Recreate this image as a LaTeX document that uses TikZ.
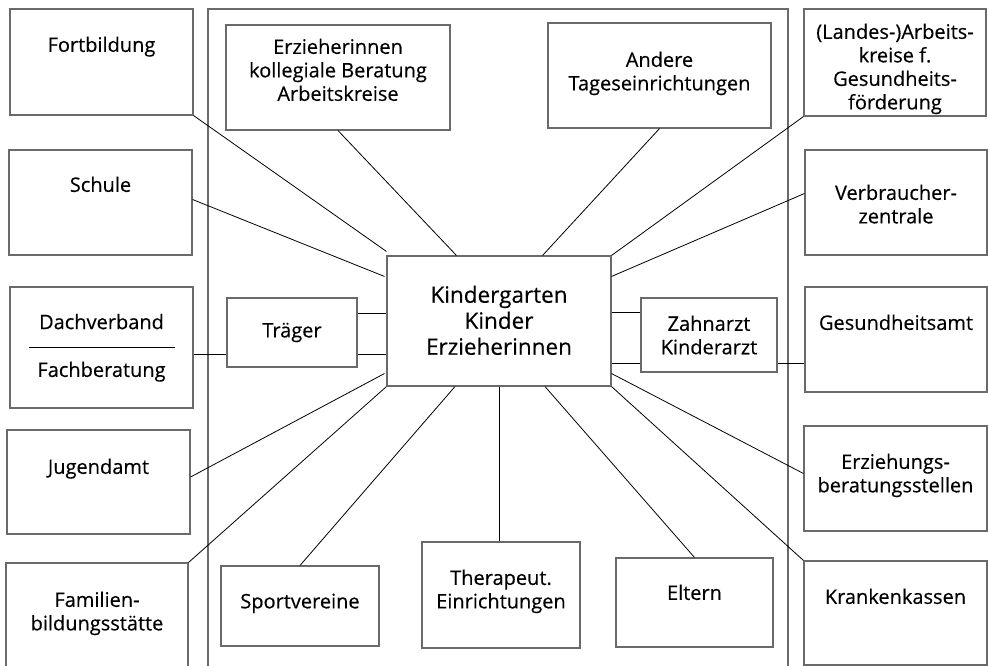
\documentclass[tikz,border=0pt]{standalone}
\usepackage{fontspec}
\setmainfont{Open Sans}[FakeBold=0.35]
\usepackage{xcolor}
\definecolor{boxgray}{HTML}{6A6A6A}
\usepackage{tikz}
\usetikzlibrary{positioning}
\tikzstyle{box} = [rectangle, draw=boxgray, line width=1.1pt, inner sep=0pt,
    align=center, font=\fontsize{20}{23.5}\selectfont]
\tikzstyle{txt} = [align=center, inner sep=0pt, font=\fontsize{20}{23.5}\selectfont]
\tikzstyle{line} = [draw, line width=0.8pt]

\begin{document}
\begin{tikzpicture}[x=1pt,y=-1pt]
    \useasboundingbox (0,0) rectangle (988,666);
    % frame round the middle
    \draw[boxgray, line width=1.1pt] (208,672) -- (208,9) -- (788,9) -- (788,672);

    % Place nodes
    % left column
    \node [box, minimum width=183pt, minimum height=106pt] (fb) at (101.5,62) {};
    \node [txt, below=28pt of fb.north] (fbt) {Fortbildung};
    \node [box, minimum width=183pt, minimum height=105pt] (schule) at (100.5,202.5) {};
    \node [txt, below=27pt of schule.north] (schulet) {Schule};
    \node [box, minimum width=183pt, minimum height=121pt] (dach) at (101.5,347.5) {};
    \node [txt, above=18pt of dach.center] (dacht) {Dachverband};
    \node [txt, below=14pt of dach.center] (facht) {Fachberatung};
    \node [box, minimum width=183pt, minimum height=104pt] (jugend) at (98.5,482) {};
    \node [txt, below=29pt of jugend.north] (jugendt) {Jugendamt};
    \node [box, minimum width=182pt, minimum height=110pt] (famil) at (97,618) {};
    \node [txt, below=29pt of famil.north] (familt) {Familien-\\bildungsstätte};

    % middle
    \node [box, minimum width=224pt, minimum height=105pt] (erzk) at (338,77.5) {};
    \node [txt, below=14pt of erzk.north] (erzkt) {Erzieherinnen\\kollegiale Beratung\\Arbeitskreise};
    \node [box, minimum width=223pt, minimum height=105pt] (andere) at (659.5,75.5) {};
    \node [txt, below=29pt of andere.north] (anderet) {Andere\\Tageseinrichtungen};
    \node [box, minimum width=224pt, minimum height=130pt] (kg) at (499,321) {};
    \node [txt, font=\fontsize{22.5}{26}\selectfont, below=30pt of kg.north] (kgt)
        {Kindergarten\\Kinder\\Erzieherinnen};
    \node [box, minimum width=130pt, minimum height=69pt] (traeger) at (292,332.5) {Träger};
    \node [box, minimum width=136pt, minimum height=74pt] (arzt) at (709,335) {Zahnarzt\\Kinderarzt};
    \node [box, minimum width=158pt, minimum height=80pt] (sport) at (300,606) {};
    \node [txt, below=28pt of sport.north] (sportt) {Sportvereine};
    \node [box, minimum width=158pt, minimum height=106pt] (thera) at (501,595) {};
    \node [txt, below=28pt of thera.north] (therat) {Therapeut.\\Einrichtungen};
    \node [box, minimum width=157pt, minimum height=89pt] (eltern) at (694.5,602.5) {};
    \node [txt, below=27pt of eltern.north] (elternt) {Eltern};

    % right column
    \node [box, minimum width=182pt, minimum height=107pt] (landes) at (895,62.5) {};
    \node [txt, below=15pt of landes.north] (landest)
        {(Landes-)Arbeits-\\kreise f.\\Gesundheits-\\förderung};
    \node [box, minimum width=182pt, minimum height=105pt] (verbr) at (896,202.5) {};
    \node [txt, below=35pt of verbr.north] (verbrt) {Verbraucher-\\zentrale};
    \node [box, minimum width=182pt, minimum height=105pt] (gesund) at (896,339.5) {};
    \node [txt, below=28pt of gesund.north] (gesundt) {Gesundheitsamt};
    \node [box, minimum width=183pt, minimum height=105pt] (erzb) at (895.5,478.5) {};
    \node [txt, below=28pt of erzb.north] (erzbt) {Erziehungs-\\beratungsstellen};
    \node [box, minimum width=183pt, minimum height=104pt] (kranken) at (895.5,613) {};
    \node [txt, below=28pt of kranken.north] (krankent) {Krankenkassen};

    % divider in Dachverband box
    \draw[line] ([xshift=20pt]dach.west) -- ([xshift=-19pt]dach.east);

    % Draw edges
    \path [line] (fb.south east) -- ([yshift=4pt]kg.north west);
    \path [line] ([yshift=3pt]schule.east) -- ([xshift=-2pt,yshift=-21pt]kg.north west);
    \path [line] ([yshift=-6.5pt]dach.east) -- ([yshift=-21.5pt]traeger.west);
    \path [line] ([yshift=19.5pt]traeger.east) -- ([yshift=8pt]kg.west);
    \path [line] ([yshift=-21.5pt]traeger.east) -- ([yshift=-33pt]kg.west);
    \path [line] ([yshift=5pt]jugend.east) -- ([xshift=-2pt,yshift=13pt]kg.south west);
    \path [line] (famil.north east) -- (kg.south west);
    \path [line] (erzk.south) -- ([xshift=70pt]kg.north west);
    \path [line] (andere.south) -- ([xshift=-69pt]kg.north east);
    \path [line] (sport.north) -- ([xshift=-44pt]kg.south);
    \path [line] (kg.south) -- (kg.south |- thera.north);
    \path [line] (eltern.north) -- ([xshift=46pt]kg.south);
    \path [line] (landes.south west) -- (kg.north east);
    \path [line] ([yshift=9pt]verbr.west) -- ([yshift=-21pt]kg.north east);
    \path [line] ([yshift=9pt]kg.east) -- ([yshift=23pt]arzt.west);
    \path [line] ([yshift=-42pt]kg.east) -- ([yshift=-28pt]arzt.west);
    \path [line] ([yshift=-28pt]arzt.east) -- ([yshift=-23.5pt]gesund.west);
    \path [line] ([yshift=5pt]erzb.west) -- ([yshift=13pt]kg.south east);
    \path [line] (kranken.north west) -- (kg.south east);
\end{tikzpicture}
\end{document}
